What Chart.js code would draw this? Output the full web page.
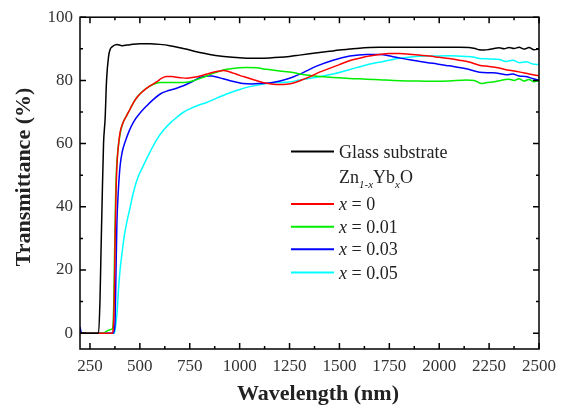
<!DOCTYPE html>
<html lang="en">
<head>
<meta charset="UTF-8">
<title>Transmittance - Zn1-xYbxO</title>
<script src="https://cdn.jsdelivr.net/npm/chart.js"></script>
<style>
    body {
        margin: 0;
        padding: 0;
        background: #fff;
    }
    .chart-box {
        position: relative;
        width: 565px;
        height: 409px;
    }
</style>
</head>
<body>
<div class="chart-box"><canvas id="chart"></canvas></div>
<script>
    // axis ticks
    const xTicks = [250, 500, 750, 1000, 1250, 1500, 1750, 2000, 2250, 2500];
    const yTicks = [0, 20, 40, 60, 80, 100];

    // glass substrate
    const glassWl = [200, 293, 300, 305, 312, 318, 326, 333, 343, 351, 360, 385, 410, 450, 500, 550, 600, 650, 700, 750, 800, 850, 900, 950, 1000, 1050, 1100, 1150, 1200, 1250, 1300, 1350, 1400, 1450, 1500, 1550, 1600, 1650, 1700, 1800, 1900, 2000, 2100, 2150, 2180, 2200, 2226, 2250, 2275, 2300, 2325, 2350, 2375, 2400, 2425, 2450, 2475, 2500];
    const glassT = [0, 0, 10, 25, 45, 60, 68, 80, 87.5, 89.8, 90.6, 91.4, 91.0, 91.3, 91.6, 91.6, 91.4, 91.0, 90.3, 89.6, 88.8, 88.2, 87.7, 87.4, 87.2, 87.0, 87.0, 87.1, 87.3, 87.6, 88.0, 88.4, 88.8, 89.2, 89.6, 89.9, 90.2, 90.4, 90.5, 90.5, 90.5, 90.5, 90.5, 90.4, 90.1, 89.7, 89.6, 89.8, 90.1, 90.3, 90.0, 90.4, 90.1, 90.5, 89.9, 90.4, 89.7, 89.9];

    // x = 0
    const x0Wl = [200, 360, 368, 372, 376, 380, 385, 392, 401, 415, 435, 450, 468, 490, 518, 545, 568, 590, 610, 635, 660, 685, 710, 735, 770, 802, 835, 868, 900, 918, 940, 968, 1000, 1035, 1070, 1102, 1135, 1168, 1200, 1235, 1270, 1302, 1350, 1400, 1450, 1500, 1550, 1600, 1650, 1700, 1750, 1800, 1850, 1900, 1950, 2000, 2050, 2100, 2150, 2200, 2250, 2300, 2350, 2400, 2450, 2500];
    const x0T = [0, 0, 3, 12, 30, 43, 53, 59, 63.6, 66.5, 69, 70.8, 73, 75, 76.7, 78, 78.9, 79.8, 80.7, 81.2, 81.2, 81.0, 80.8, 80.7, 81.0, 81.4, 82.0, 82.6, 83.0, 83.1, 82.9, 82.3, 81.6, 80.9, 80.2, 79.6, 79.1, 78.8, 78.7, 78.8, 79.2, 79.9, 81.1, 82.6, 83.8, 85.0, 86.2, 87.0, 87.7, 88.2, 88.5, 88.5, 88.3, 88.0, 87.7, 87.3, 86.9, 86.4, 85.8, 84.8, 84.4, 83.9, 83.2, 82.7, 82.0, 81.4];

    // x = 0.01
    const x1Wl = [200, 318, 330, 345, 360, 366, 370, 374, 378, 383, 390, 401, 415, 435, 450, 468, 490, 518, 545, 568, 602, 650, 700, 735, 768, 800, 835, 870, 902, 935, 968, 1000, 1035, 1085, 1135, 1200, 1268, 1302, 1350, 1400, 1468, 1550, 1635, 1700, 1802, 1900, 1968, 2050, 2135, 2175, 2210, 2240, 2268, 2300, 2325, 2350, 2375, 2400, 2425, 2450, 2475, 2500];
    const x1T = [0, 0, 0.5, 1.0, 1.3, 3, 12, 28, 42, 52, 58, 63, 66.5, 69, 70.8, 73, 75, 76.8, 78, 78.8, 79.3, 79.3, 79.3, 79.4, 79.9, 80.6, 81.4, 82.3, 83.0, 83.5, 83.8, 84.0, 84.1, 84.0, 83.5, 83.0, 82.5, 82.0, 81.6, 81.2, 80.9, 80.6, 80.4, 80.2, 79.9, 79.8, 79.7, 79.8, 80.1, 80.0, 79.0, 79.3, 79.5, 79.9, 80.2, 80.4, 80.0, 80.5, 79.8, 80.3, 79.6, 80.0];

    // x = 0.03
    const x3Wl = [200, 205, 212, 365, 372, 376, 380, 385, 392, 401, 412, 426, 445, 468, 500, 535, 568, 602, 635, 668, 700, 735, 768, 802, 835, 860, 885, 918, 952, 985, 1018, 1060, 1102, 1150, 1185, 1225, 1268, 1302, 1335, 1385, 1468, 1552, 1635, 1702, 1768, 1852, 1968, 2052, 2135, 2202, 2268, 2300, 2335, 2368, 2400, 2435, 2468, 2500];
    const x3T = [2, 0.5, 0, 0, 1, 4, 18, 35, 45, 53, 57.5, 60.5, 63.8, 66.8, 69.6, 72.0, 74.0, 75.7, 76.6, 77.2, 77.9, 78.8, 79.8, 80.9, 81.4, 81.4, 81.1, 80.5, 79.9, 79.4, 79.0, 78.9, 79.0, 79.2, 79.6, 80.2, 81.1, 82.0, 83.0, 84.5, 86.4, 87.7, 88.2, 88.2, 87.5, 86.5, 85.4, 84.6, 83.7, 82.6, 82.4, 82.2, 81.8, 82.0, 81.4, 81.2, 80.6, 80.0];

    // x = 0.05
    const x5Wl = [200, 372, 378, 385, 393, 400, 410, 420, 435, 450, 468, 490, 518, 545, 568, 590, 618, 650, 685, 720, 768, 800, 835, 885, 935, 985, 1035, 1085, 1135, 1185, 1235, 1302, 1385, 1468, 1550, 1635, 1720, 1802, 1885, 1968, 2050, 2135, 2170, 2202, 2250, 2302, 2335, 2368, 2402, 2435, 2468, 2500];
    const x5T = [0, 0, 2, 6, 14, 19.5, 25, 30, 35.3, 39.5, 44.7, 49.3, 53.1, 56.6, 59.4, 61.8, 64.2, 66.4, 68.3, 70.0, 71.5, 72.3, 73.0, 74.4, 75.7, 76.8, 77.8, 78.5, 79.0, 79.3, 79.4, 80.1, 81.0, 82.0, 83.4, 84.9, 86.0, 87.0, 87.6, 87.7, 87.8, 87.6, 87.4, 86.9, 86.8, 86.6, 86.0, 86.4, 85.6, 85.9, 85.2, 85.0];

    const seriesLabels = ['Glass substrate', 'x = 0', 'x = 0.01', 'x = 0.03', 'x = 0.05'];
    const seriesColors = ['#000000', '#ff0000', '#00ee00', '#0000ff', '#00ffff'];
    const seriesData = [[glassWl, glassT], [x0Wl, x0T], [x1Wl, x1T], [x3Wl, x3T], [x5Wl, x5T]];

    const serif = '"Liberation Serif", "Times New Roman", serif';

    function toPoints(wl, t) {
        return wl.map((w, i) => ({ x: w, y: t[i] }));
    }

    // frame with inward major/minor ticks, axis titles and legend
    const decorPlugin = {
        id: 'decor',
        afterDraw(chart) {
            const ctx = chart.ctx;
            const a = chart.chartArea;
            const xs = chart.scales.x;
            const ys = chart.scales.y;
            ctx.save();
            ctx.strokeStyle = '#000';
            ctx.lineWidth = 1.5;
            ctx.strokeRect(a.left, a.top, a.right - a.left, a.bottom - a.top);

            ctx.beginPath();
            const seg = (x1, y1, x2, y2) => { ctx.moveTo(x1, y1); ctx.lineTo(x2, y2); };
            xTicks.forEach((v, i) => {
                const px = xs.getPixelForValue(v);
                seg(px, a.bottom, px, a.bottom - 6);
                seg(px, a.top, px, a.top + 6);
                if (i > 0) {
                    const m = xs.getPixelForValue((v + xTicks[i - 1]) / 2);
                    seg(m, a.bottom, m, a.bottom - 3);
                    seg(m, a.top, m, a.top + 3);
                }
            });
            yTicks.forEach((v, i) => {
                const py = ys.getPixelForValue(v);
                seg(a.left, py, a.left + 6, py);
                seg(a.right, py, a.right - 6, py);
                if (i > 0) {
                    const m = ys.getPixelForValue((v + yTicks[i - 1]) / 2);
                    seg(a.left, m, a.left + 3, m);
                    seg(a.right, m, a.right - 3, m);
                }
            });
            ctx.stroke();

            // axis titles
            ctx.fillStyle = '#222';
            ctx.font = 'bold 22px ' + serif;
            ctx.textAlign = 'center';
            ctx.textBaseline = 'alphabetic';
            ctx.fillText('Wavelength (nm)', 318, 400);
            ctx.save();
            ctx.translate(30, 177);
            ctx.rotate(-Math.PI / 2);
            ctx.fillText('Transmittance (%)', 0, 0);
            ctx.restore();

            // legend
            ctx.textAlign = 'left';
            const lx1 = 291, lx2 = 334, tx = 339;
            const rowY = [151.5, 176.5, 204, 226.7, 249.3, 272.5];
            const regular = '18px ' + serif;
            const italic = 'italic 18px ' + serif;
            const subItalic = 'italic 11px ' + serif;

            const drawRun = (parts, x, base) => {
                parts.forEach(p => {
                    ctx.font = p[1];
                    ctx.fillText(p[0], x, base + (p[2] || 0));
                    x += ctx.measureText(p[0]).width;
                });
            };

            const rows = [0, -1, 1, 2, 3, 4];
            rows.forEach((idx, r) => {
                const y = rowY[r];
                const base = y + 6;
                if (idx < 0) {
                    drawRun([['Zn', regular], ['1-x', subItalic, 5], ['Yb', regular], ['x', subItalic, 5], ['O', regular]], tx, base);
                    return;
                }
                ctx.strokeStyle = seriesColors[idx];
                ctx.lineWidth = 2;
                ctx.beginPath();
                ctx.moveTo(lx1, y);
                ctx.lineTo(lx2, y);
                ctx.stroke();
                const label = seriesLabels[idx];
                if (label.startsWith('x ')) {
                    drawRun([['x', italic], [label.slice(1), regular]], tx, base);
                } else {
                    drawRun([[label, regular]], tx, base);
                }
            });
            ctx.restore();
        }
    };

    new Chart(document.getElementById('chart'), {
        type: 'line',
        data: {
            datasets: seriesData.map((s, i) => ({
                label: seriesLabels[i],
                data: toPoints(s[0], s[1]),
                borderColor: seriesColors[i],
                borderWidth: 1.5,
                pointRadius: 0,
                fill: false,
                cubicInterpolationMode: 'monotone',
                order: i
            }))
        },
        options: {
            responsive: true,
            maintainAspectRatio: false,
            animation: false,
            layout: { padding: { top: 14, right: 26, left: 0, bottom: 0 } },
            plugins: {
                legend: { display: false },
                tooltip: { enabled: false }
            },
            scales: {
                x: {
                    type: 'linear',
                    min: 200,
                    max: 2500,
                    grid: { display: false, drawTicks: false },
                    border: { display: false },
                    afterBuildTicks: s => { s.ticks = xTicks.map(v => ({ value: v })); },
                    afterFit: s => { s.height = 60; },
                    ticks: {
                        color: '#333',
                        padding: 7,
                        maxRotation: 0,
                        autoSkip: false,
                        font: { family: serif, size: 17 },
                        callback: v => String(v)
                    }
                },
                y: {
                    min: -5,
                    max: 100,
                    grid: { display: false, drawTicks: false },
                    border: { display: false },
                    afterBuildTicks: s => { s.ticks = yTicks.map(v => ({ value: v })); },
                    afterFit: s => { s.width = 80; },
                    ticks: {
                        color: '#333',
                        padding: 7,
                        font: { family: serif, size: 17 },
                        callback: v => String(v)
                    }
                }
            }
        },
        plugins: [decorPlugin]
    });
</script>
</body>
</html>
